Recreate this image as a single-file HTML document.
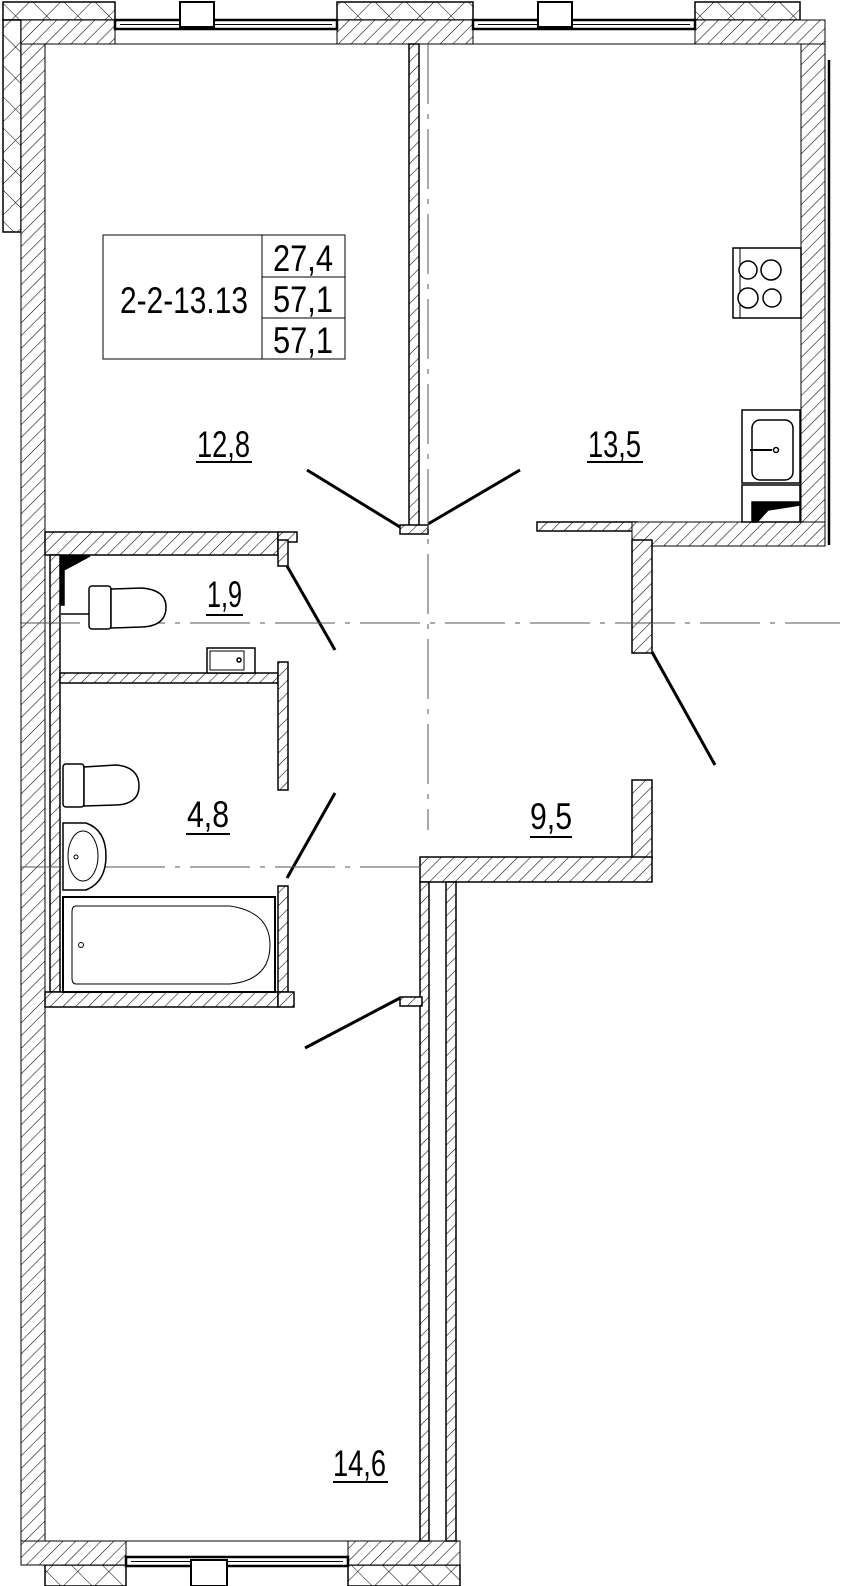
<!DOCTYPE html>
<html><head><meta charset="utf-8"><style>
html,body{margin:0;padding:0;background:#fff}
svg{display:block}
text{font-family:"Liberation Sans",sans-serif;fill:#000}
</style></head><body>
<svg width="841" height="1586" viewBox="0 0 841 1586" xmlns="http://www.w3.org/2000/svg">
<defs>
<pattern id="h" width="9" height="9" patternUnits="userSpaceOnUse" patternTransform="rotate(45)">
<rect width="9" height="9" fill="#fff"/><line x1="0" y1="0" x2="0" y2="9" stroke="#000" stroke-width="1.1"/>
</pattern>
<pattern id="x" width="22" height="22" patternUnits="userSpaceOnUse" patternTransform="rotate(45)">
<rect width="22" height="22" fill="#fff"/><line x1="0" y1="0" x2="0" y2="22" stroke="#000" stroke-width="1"/><line x1="0" y1="0" x2="22" y2="0" stroke="#000" stroke-width="1"/>
</pattern>
</defs>
<g stroke="#000" stroke-width="1.5">
<rect x="3" y="2" width="112" height="18" fill="url(#x)"/>
<rect x="337" y="2" width="136" height="18" fill="url(#x)"/>
<rect x="695" y="2" width="105" height="18" fill="url(#x)"/>
<rect x="3" y="20" width="18" height="212" fill="url(#x)"/>
<rect x="45" y="1565" width="81" height="21" fill="url(#x)"/>
<rect x="348" y="1565" width="112" height="21" fill="url(#x)"/>
<rect x="21" y="20" width="94" height="24" fill="url(#h)" stroke-width="1"/>
<rect x="337" y="20" width="136" height="24" fill="url(#h)" stroke-width="1"/>
<rect x="695" y="20" width="130" height="24" fill="url(#h)" stroke-width="1"/>
<rect x="21" y="44" width="24" height="1497" fill="url(#h)" stroke-width="1"/>
<rect x="801" y="44" width="24" height="501" fill="url(#h)" stroke-width="1"/>
<line x1="829" y1="60" x2="829" y2="545" stroke-width="2.5"/>
<rect x="21" y="1541" width="105" height="24" fill="url(#h)" stroke-width="1"/>
<rect x="348" y="1541" width="112" height="24" fill="url(#h)" stroke-width="1"/>
<rect x="115" y="20" width="222" height="24" fill="#fff" stroke-width="1"/>
<rect x="115" y="20" width="222" height="9" fill="#fff" stroke-width="2.5"/>
<line x1="120" y1="24.5" x2="332" y2="24.5" stroke-width="1"/>
<rect x="180" y="2" width="34" height="25" fill="#fff" stroke-width="2"/>
<rect x="473" y="20" width="222" height="24" fill="#fff" stroke-width="1"/>
<rect x="473" y="20" width="222" height="9" fill="#fff" stroke-width="2.5"/>
<line x1="478" y1="24.5" x2="690" y2="24.5" stroke-width="1"/>
<rect x="538" y="2" width="34" height="25" fill="#fff" stroke-width="2"/>
<rect x="126" y="1541" width="222" height="24" fill="#fff" stroke-width="1"/>
<rect x="126" y="1557" width="222" height="9" fill="#fff" stroke-width="2.5"/>
<line x1="131" y1="1561.5" x2="343" y2="1561.5" stroke-width="1"/>
<rect x="191" y="1560" width="36" height="26" fill="#fff" stroke-width="2"/>
<rect x="409" y="44" width="10" height="484" fill="url(#h)"/>
<rect x="400" y="525" width="28" height="9" fill="url(#h)"/>
<rect x="537" y="522" width="100" height="9" fill="url(#h)"/>
<rect x="632" y="522" width="193" height="24" fill="url(#h)" stroke-width="1"/>
<rect x="632" y="540" width="20" height="113" fill="url(#h)"/>
<rect x="632" y="780" width="20" height="78" fill="url(#h)"/>
<rect x="420" y="857" width="232" height="25" fill="url(#h)"/>
<rect x="420" y="882" width="9" height="659" fill="url(#h)"/>
<rect x="446" y="882" width="10" height="659" fill="url(#h)"/>
<rect x="400" y="997" width="22" height="9" fill="url(#h)"/>
<rect x="45" y="532" width="233" height="23" fill="url(#h)"/>
<rect x="278" y="532" width="19" height="10" fill="url(#h)"/>
<rect x="278" y="540" width="10" height="26" fill="url(#h)"/>
<rect x="50" y="555" width="10" height="437" fill="url(#h)"/>
<rect x="60" y="673" width="218" height="10" fill="url(#h)"/>
<rect x="278" y="662" width="10" height="128" fill="url(#h)"/>
<rect x="278" y="886" width="10" height="106" fill="url(#h)"/>
<rect x="45" y="992" width="233" height="15" fill="url(#h)"/>
<rect x="278" y="992" width="16" height="15" fill="url(#h)"/>
<g stroke-width="3">
<line x1="400" y1="527" x2="307" y2="470"/>
<line x1="428" y1="524" x2="520" y2="470"/>
<line x1="287" y1="566" x2="335" y2="650"/>
<line x1="287" y1="878" x2="335" y2="793"/>
<line x1="652" y1="652" x2="715" y2="765"/>
<line x1="400" y1="998" x2="305" y2="1048"/>
</g>
<g stroke="#555" stroke-width="1" stroke-dasharray="60 10 5 10">
<line x1="428" y1="44" x2="428" y2="830"/>
<line x1="20" y1="623" x2="840" y2="623"/>
<line x1="20" y1="867" x2="420" y2="867"/>
</g>
<rect x="103" y="235" width="242" height="124" fill="#fff" stroke-width="1"/>
<line x1="262" y1="235" x2="262" y2="359" stroke-width="1"/>
<line x1="262" y1="277" x2="345" y2="277" stroke-width="1"/>
<line x1="262" y1="318" x2="345" y2="318" stroke-width="1"/>
<g stroke-width="1.5" fill="#fff">
<rect x="733" y="248" width="68" height="70"/>
<line x1="740" y1="248" x2="740" y2="318" stroke-width="1"/>
<circle cx="771" cy="270" r="10"/><circle cx="748" cy="270" r="9"/>
<circle cx="748" cy="298" r="10"/><circle cx="772" cy="298" r="9"/>
<rect x="742" y="410" width="58" height="73"/>
<rect x="752" y="420" width="41" height="60" rx="8"/>
<line x1="750" y1="450" x2="772" y2="450" stroke-width="2"/><circle cx="776" cy="450" r="2.5"/>
<rect x="742" y="485" width="58" height="37"/>
<polygon points="752,502 800,502 800,505 768,510 757,522 752,522" fill="#000"/>
<polygon points="61,556 90,556 64,570 64,605 61,605" fill="#000"/>
<line x1="61" y1="614" x2="89" y2="614"/>
<rect x="89" y="586" width="22" height="43" rx="3"/>
<path d="M111,589 L142,588 Q166,590 166,607 Q166,626 142,627 L111,628 Z"/>
<rect x="207" y="648" width="48" height="25"/>
<rect x="210" y="651" width="34" height="19" stroke-width="1"/>
<circle cx="239" cy="660" r="2"/>
<rect x="63" y="764" width="21" height="43" rx="3"/>
<path d="M84,767 L116,765 Q139,767 139,786 Q139,804 116,805 L84,806 Z"/>
<path d="M63,823 L86,823 Q106,830 106,856 Q106,882 86,890 L63,890 Z"/>
<ellipse cx="83" cy="856" rx="15" ry="25" stroke-width="1"/><circle cx="76" cy="857" r="2" stroke-width="1"/>
<rect x="63" y="897" width="212" height="95" stroke-width="2"/>
<path d="M76,906 L230,906 Q270,912 270,945 Q270,980 230,984 L76,984 Q72,984 72,978 L72,912 Q72,906 76,906 Z" stroke-width="1"/>
<circle cx="81" cy="945" r="2.5" stroke-width="1"/>
</g>
</g>
<g font-size="37">
<text x="120" y="313" textLength="128" lengthAdjust="spacingAndGlyphs">2-2-13.13</text>
<text x="273" y="271" textLength="60" lengthAdjust="spacingAndGlyphs">27,4</text>
<text x="273" y="312" textLength="60" lengthAdjust="spacingAndGlyphs">57,1</text>
<text x="273" y="353" textLength="60" lengthAdjust="spacingAndGlyphs">57,1</text>
<text x="197" y="457" textLength="53" lengthAdjust="spacingAndGlyphs">12,8</text>
<text x="588" y="457" textLength="53" lengthAdjust="spacingAndGlyphs">13,5</text>
<text x="207" y="607" textLength="35" lengthAdjust="spacingAndGlyphs">1,9</text>
<text x="187" y="827" textLength="42" lengthAdjust="spacingAndGlyphs">4,8</text>
<text x="530" y="829" textLength="42" lengthAdjust="spacingAndGlyphs">9,5</text>
<text x="333" y="1476" textLength="53" lengthAdjust="spacingAndGlyphs">14,6</text>
</g>
<g stroke="#000" stroke-width="2">
<line x1="196" y1="462" x2="252" y2="462"/>
<line x1="587" y1="462" x2="643" y2="462"/>
<line x1="206" y1="615" x2="243" y2="615"/>
<line x1="186" y1="834" x2="230" y2="834"/>
<line x1="530" y1="837" x2="572" y2="837"/>
<line x1="333" y1="1482" x2="388" y2="1482"/>
</g>
</svg>
</body></html>
